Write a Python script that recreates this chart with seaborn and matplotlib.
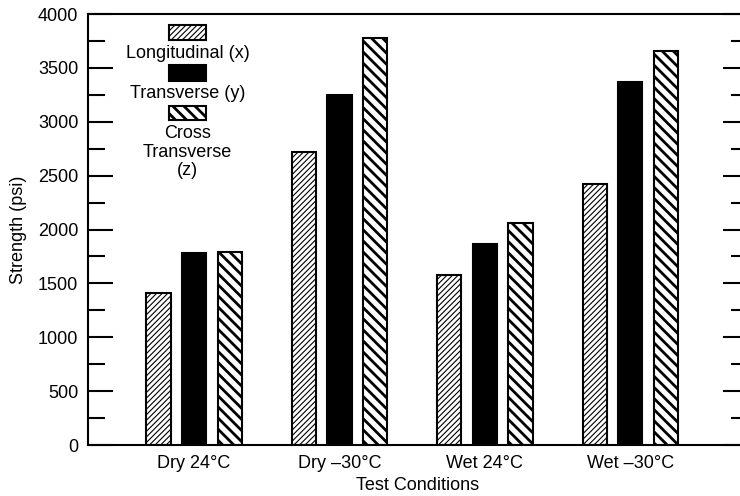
import matplotlib
matplotlib.use("Agg")
import matplotlib.pyplot as plt
from matplotlib.patches import Rectangle
from matplotlib.ticker import MultipleLocator
import seaborn as sns
import pandas as pd

conditions = ["Dry 24°C", "Dry –30°C", "Wet 24°C", "Wet –30°C"]
directions = ["Longitudinal (x)", "Transverse (y)", "Cross Transverse (z)"]
longitudinal = [1410, 2715, 1575, 2420]
transverse = [1780, 3245, 1865, 3370]
cross_transverse = [1790, 3775, 2060, 3655]
y_ticks = [0, 500, 1000, 1500, 2000, 2500, 3000, 3500, 4000]

rows = []
for d, vals in zip(directions, [longitudinal, transverse, cross_transverse]):
    for c, v in zip(conditions, vals):
        rows.append({"condition": c, "direction": d, "strength": v})
df = pd.DataFrame(rows)

sns.set_style("ticks")
plt.rcParams["font.family"] = ["Liberation Sans", "DejaVu Sans"]
plt.rcParams["hatch.linewidth"] = 1.0
for k in ["text.color", "axes.labelcolor", "xtick.color", "ytick.color",
          "axes.edgecolor"]:
    plt.rcParams[k] = "black"

fig = plt.figure(figsize=(7.4, 4.96), dpi=100)
ax = fig.add_axes([88 / 740, 1 - 445 / 496, 660 / 740, 431 / 496])

sns.barplot(data=df, x="condition", y="strength", hue="direction",
            hue_order=directions, order=conditions,
            palette=["white", "black", "white"], edgecolor="black",
            linewidth=1.5, width=0.735, gap=0.32, legend=False, ax=ax,
            saturation=1)

hatches = ["//////", None, "\\\\\\"]
hlw = [0.8, 1.0, 2.0]
for cont, h, lw in zip(ax.containers, hatches, hlw):
    for p in cont:
        if h:
            p.set_hatch(h)
        try:
            p.set_hatch_linewidth(lw)
        except AttributeError:
            pass

ax.set_xlim(-0.73, 3.81)
ax.set_ylim(0, 4000)
ax.set_yticks(y_ticks)
ax.yaxis.set_minor_locator(MultipleLocator(250))
ax.tick_params(axis="y", which="major", direction="in", length=18, width=1.5,
               left=True, right=True, labelsize=13, pad=7)
ax.tick_params(axis="y", which="minor", direction="in", length=12, width=1.5,
               left=True, right=True)
ax.tick_params(axis="x", length=0, labelsize=13, pad=7)
for s in ax.spines.values():
    s.set_linewidth(1.5)
    s.set_color("black")
ax.spines["right"].set_visible(True)
ax.spines["top"].set_visible(True)

ax.set_xlabel("Test Conditions", fontsize=13, labelpad=4)
ax.set_ylabel("Strength (psi)", fontsize=13, labelpad=8)

# legend: handle above its label
def axx(px):
    return (px - 88) / 660

def axy(py):
    return (445 - py) / 431

leg = [
    (25, 40, "//////", "white", 0.8, [(53, "Longitudinal (x)")]),
    (65, 81, None, "black", 1.0, [(93, "Transverse (y)")]),
    (106, 120, "\\\\\\", "white", 2.0,
     [(133, "Cross"), (152, "Transverse"), (170, "(z)")]),
]
for top, bot, h, fc, lw, labels in leg:
    r = Rectangle((axx(169), axy(bot)), axx(206) - axx(169), axy(top) - axy(bot),
                  transform=ax.transAxes, facecolor=fc, edgecolor="black",
                  linewidth=1.5, hatch=h)
    try:
        r.set_hatch_linewidth(lw)
    except AttributeError:
        pass
    ax.add_patch(r)
    for py, t in labels:
        ax.text(axx(187.5), axy(py), t, transform=ax.transAxes, ha="center",
                va="center", fontsize=13)

fig.savefig("out.png", dpi=100)
